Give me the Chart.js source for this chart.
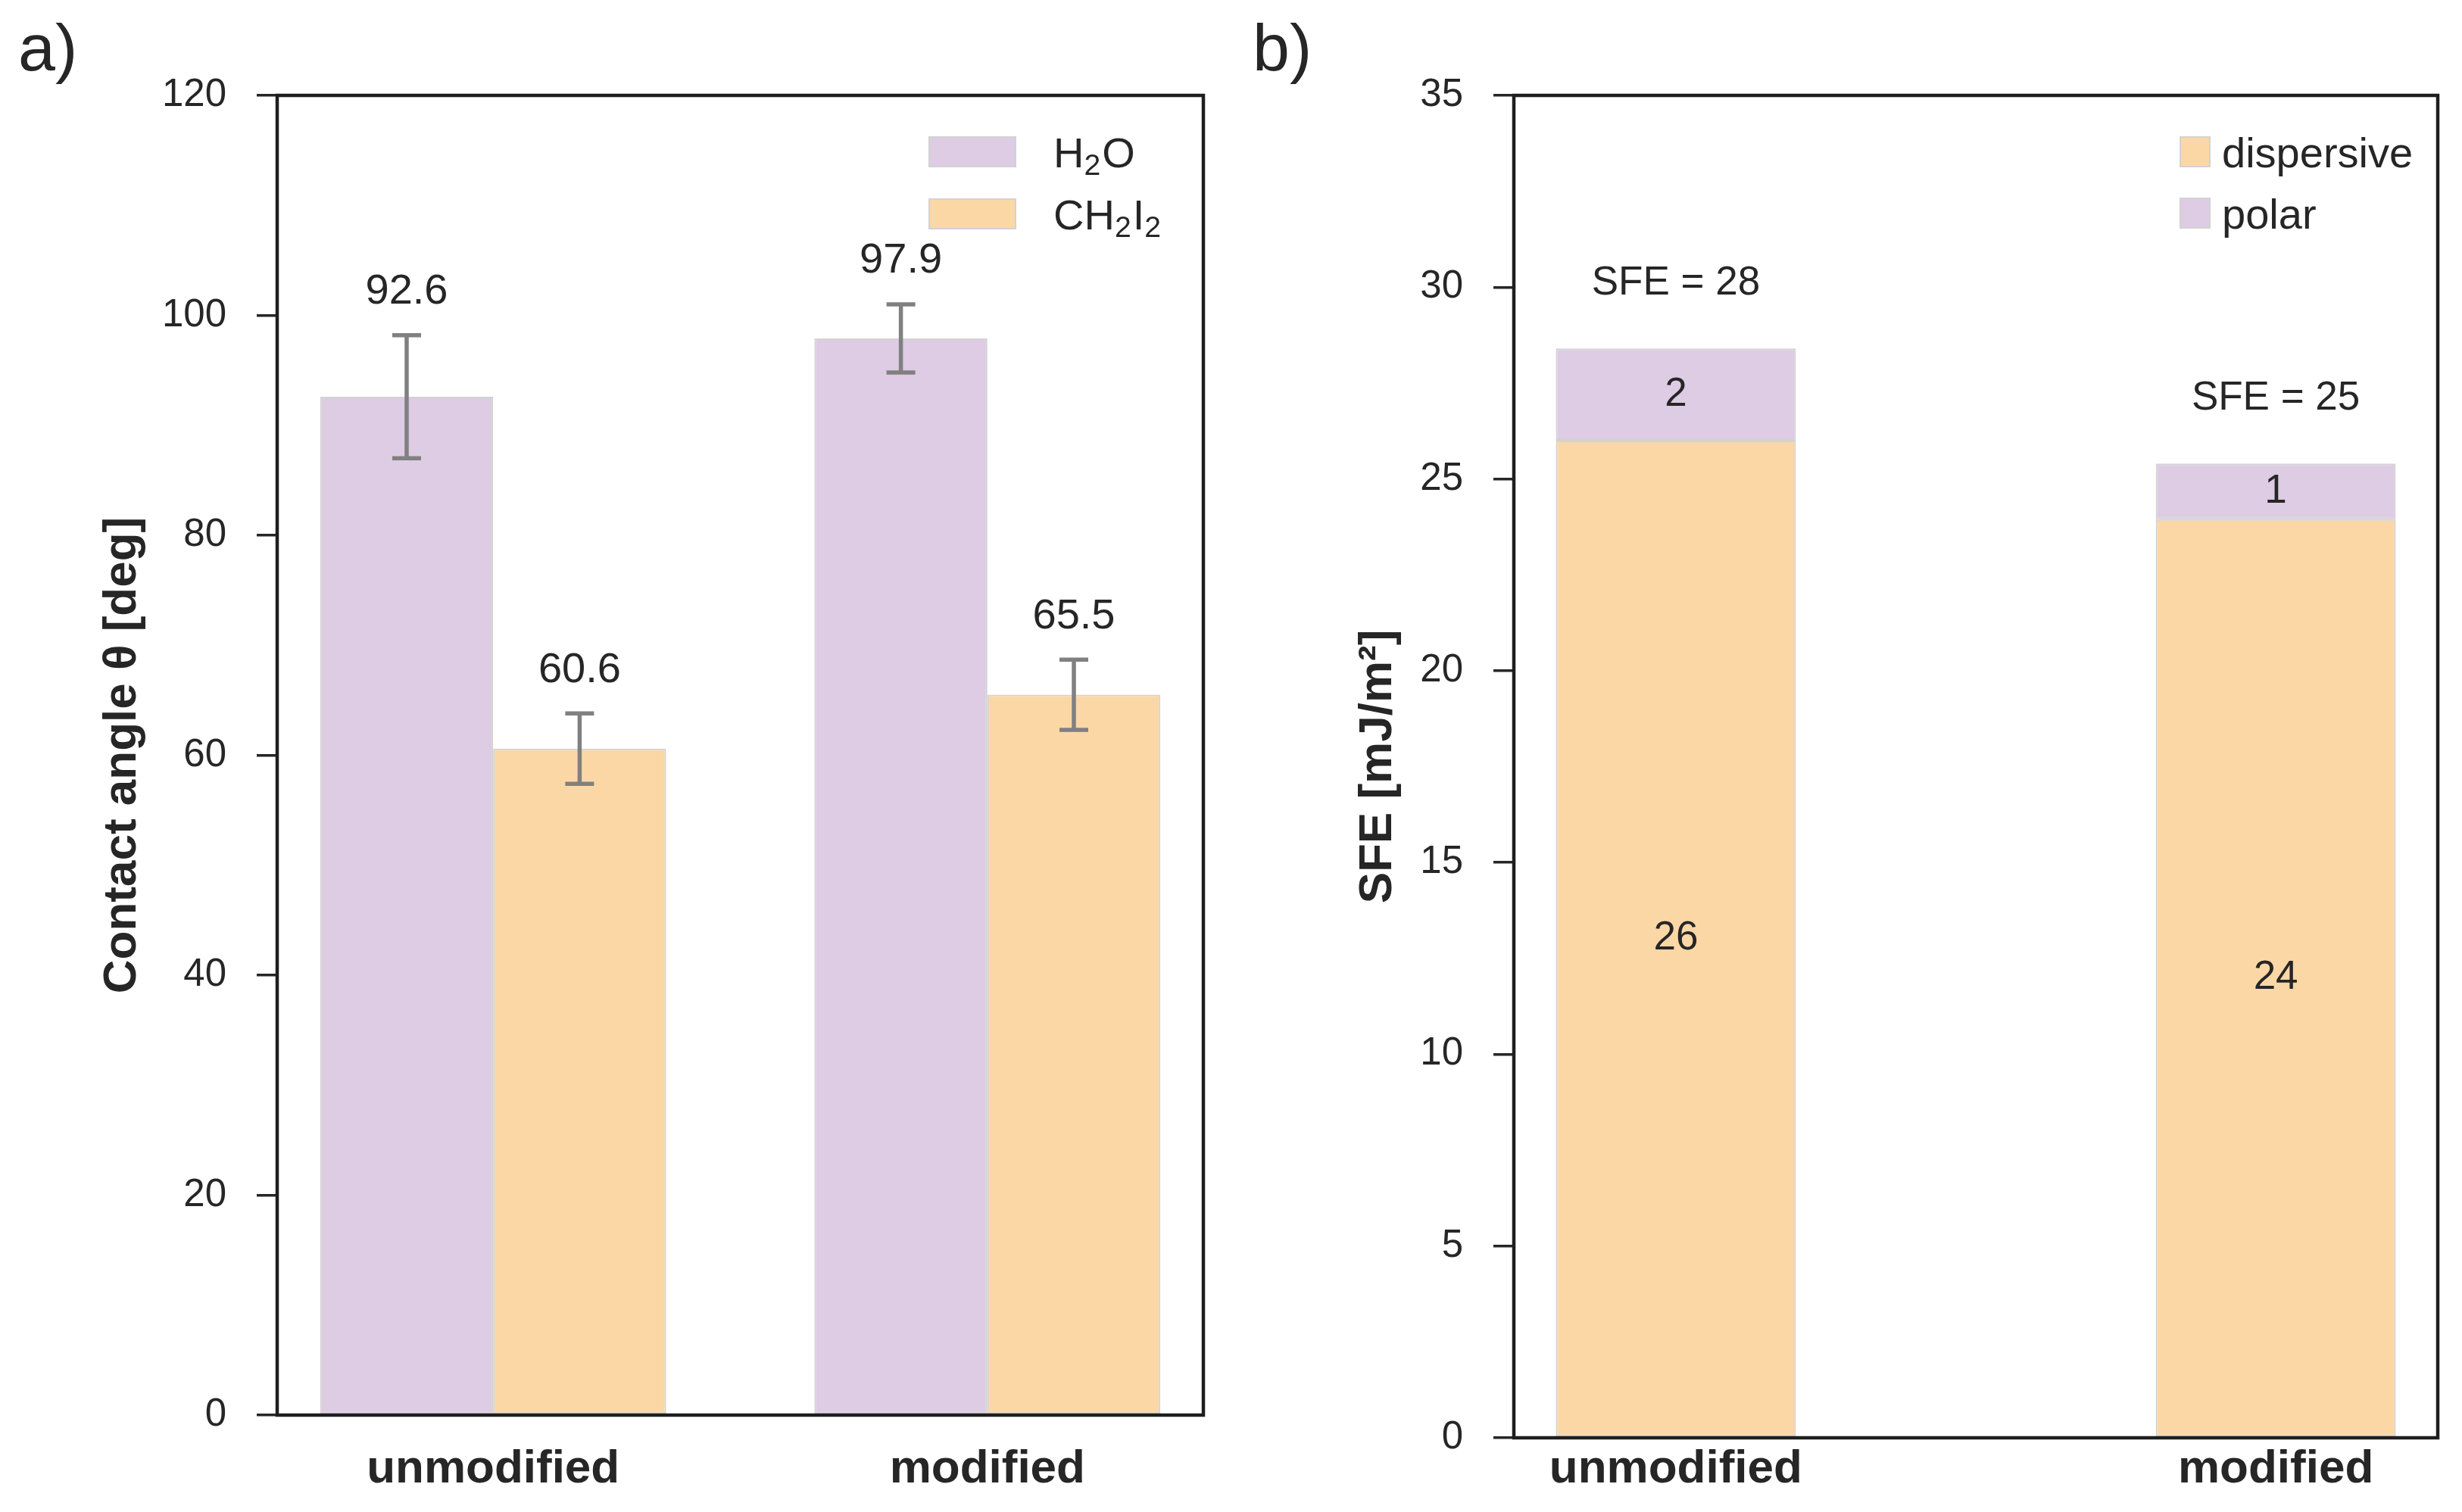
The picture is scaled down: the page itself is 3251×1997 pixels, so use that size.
<!DOCTYPE html>
<html>
<head>
<meta charset="utf-8">
<script src="https://cdn.jsdelivr.net/npm/chart.js@4.4.1/dist/chart.umd.min.js"></script>
<style>
    body { margin: 0; background: #fff; width: 3251px; height: 1997px; position: relative; overflow: hidden; }
    .panel { position: absolute; top: 0; }
    #panelA { left: 0; }
    #panelB { left: 1625px; }
</style>
</head>
<body>
<div class="panel" id="panelA"><canvas id="angleChart" width="1625" height="1997"></canvas></div>
<div class="panel" id="panelB"><canvas id="sfeChart" width="1626" height="1997"></canvas></div>
<script>
// categories and tick values
const categories = ['unmodified', 'modified'];
const angleTicks = [0, 20, 40, 60, 80, 100, 120];
const sfeTicks = [0, 5, 10, 15, 20, 25, 30, 35];

// a) contact angles (deg) with standard deviation
const waterAngle = [92.6, 97.9];
const waterErr = [5.6, 3.1];
const diiodoAngle = [60.6, 65.5];
const diiodoErr = [3.2, 3.2];

// b) surface free energy components (mJ/m²)
const dispersiveSFE = [26.0, 23.95];
const polarSFE = [2.4, 1.45];

const FONT = '"Liberation Sans", Arial, Helvetica, sans-serif';
const INK = '#262626';
const PURPLE = '#DDCCE4';
const ORANGE = '#FCD7A6';
const EDGE = '#d2d2d2';

Chart.defaults.font.family = FONT;
Chart.defaults.color = INK;

// draws "H2O" / "CH2I2" with the digits as subscripts
function drawFormula(ctx, text, x, baseline, size) {
    const parts = text.match(/[^\d]+|\d+/g);
    let cx = x;
    parts.forEach(part => {
        const isSub = /^\d+$/.test(part);
        const s = isSub ? size * 0.7 : size;
        ctx.font = `${s}px ${FONT}`;
        ctx.fillText(part, cx, isSub ? baseline + size * 0.18 : baseline);
        cx += ctx.measureText(part).width + (isSub ? 2 : 0);
    });
}

const panelDecor = {
    id: 'panelDecor',
    afterDatasetsDraw(chart) {
        const ctx = chart.ctx;
        const y = chart.scales.y;
        chart.data.datasets.forEach((ds, di) => {
            if (!ds.errors) return;
            chart.getDatasetMeta(di).data.forEach((bar, i) => {
                const v = ds.data[i].y;
                const top = y.getPixelForValue(v + ds.errors[i]);
                const bottom = y.getPixelForValue(v - ds.errors[i]);
                ctx.save();
                ctx.strokeStyle = '#808080';
                ctx.lineWidth = 5.5;
                ctx.beginPath();
                ctx.moveTo(bar.x, top);
                ctx.lineTo(bar.x, bottom);
                ctx.moveTo(bar.x - 19, top);
                ctx.lineTo(bar.x + 19, top);
                ctx.moveTo(bar.x - 19, bottom);
                ctx.lineTo(bar.x + 19, bottom);
                ctx.stroke();
                ctx.restore();
            });
        });
    },
    afterDraw(chart, args, opts) {
        const {ctx, chartArea} = chart;
        const y = chart.scales.y;
        ctx.save();

        // frame
        ctx.strokeStyle = '#1e1e1e';
        ctx.lineWidth = 4.5;
        ctx.strokeRect(chartArea.left, chartArea.top, chartArea.right - chartArea.left, chartArea.bottom - chartArea.top);

        ctx.fillStyle = INK;
        ctx.textAlign = 'center';
        ctx.textBaseline = 'middle';

        if (opts.mode === 'angle') {
            ctx.font = `${opts.labelSize}px ${FONT}`;
            chart.data.datasets.forEach((ds, di) => {
                chart.getDatasetMeta(di).data.forEach((bar, i) => {
                    const v = ds.data[i].y;
                    const top = y.getPixelForValue(v + ds.errors[i]);
                    ctx.fillText(v.toFixed(1), bar.x, top - 57);
                });
            });
        } else {
            ctx.font = `${opts.labelSize}px ${FONT}`;
            chart.data.datasets.forEach((ds, di) => {
                chart.getDatasetMeta(di).data.forEach((bar, i) => {
                    ctx.fillText(String(Math.round(ds.data[i].y)), bar.x, (bar.y + bar.base) / 2);
                });
            });
            const last = chart.getDatasetMeta(chart.data.datasets.length - 1).data;
            categories.forEach((c, i) => {
                const total = chart.data.datasets.reduce((s, ds) => s + ds.data[i].y, 0);
                ctx.fillText('SFE = ' + Math.round(total), last[i].x, y.getPixelForValue(total) - 86);
            });
        }

        // legend inside the top right corner
        const lg = opts.legend;
        ctx.textAlign = 'left';
        ctx.textBaseline = 'alphabetic';
        chart.data.datasets.forEach((ds, di) => {
            const bx = chartArea.right - lg.right;
            const by = chartArea.top + lg.top + di * lg.gap;
            ctx.fillStyle = ds.backgroundColor;
            ctx.fillRect(bx, by, lg.boxW, lg.boxH);
            ctx.strokeStyle = EDGE;
            ctx.lineWidth = 2;
            ctx.strokeRect(bx + 1, by + 1, lg.boxW - 2, lg.boxH - 2);
            ctx.fillStyle = INK;
            drawFormula(ctx, ds.label, chartArea.right - lg.textX, by + lg.boxH, lg.size);
        });

        // panel tag
        ctx.font = `88px ${FONT}`;
        ctx.fillText(opts.tag.text, opts.tag.x, opts.tag.y);
        ctx.restore();
    }
};

function yAxis(ticks, max, width, titleText, titlePad) {
    return {
        min: 0,
        max: max,
        afterBuildTicks: scale => { scale.ticks = ticks.map(v => ({ value: v })); },
        afterFit: scale => { scale.width = width; },
        border: { display: false },
        grid: { drawOnChartArea: false, drawTicks: true, tickLength: 27, color: INK, lineWidth: 3.5 },
        ticks: { padding: 40, font: { size: 51 }, color: INK },
        title: { display: true, text: titleText, color: INK, font: { size: 62, weight: 'bold' }, padding: { top: titlePad, bottom: 0 } }
    };
}

function xAxis(min, max, height, pad, stacked) {
    return {
        type: 'linear',
        min: min,
        max: max,
        bounds: 'data',
        offset: false,
        stacked: stacked,
        afterBuildTicks: scale => { scale.ticks = categories.map((c, i) => ({ value: i })); },
        afterFit: scale => { scale.height = height; },
        border: { display: false },
        grid: { display: false, drawTicks: false, offset: false },
        ticks: { padding: pad, font: { size: 62, weight: 'bold' }, color: INK, callback: v => categories[v], maxRotation: 0, autoSkip: false }
    };
}

new Chart(document.getElementById('angleChart'), {
    type: 'bar',
    data: {
        datasets: [
            {
                label: 'H2O',
                data: categories.map((c, i) => ({ x: i, y: waterAngle[i] })),
                errors: waterErr,
                backgroundColor: PURPLE,
                borderColor: EDGE,
                borderWidth: 2,
                borderSkipped: false
            },
            {
                label: 'CH2I2',
                data: categories.map((c, i) => ({ x: i, y: diiodoAngle[i] })),
                errors: diiodoErr,
                backgroundColor: ORANGE,
                borderColor: EDGE,
                borderWidth: 2,
                borderSkipped: false
            }
        ]
    },
    options: {
        responsive: false,
        animation: false,
        devicePixelRatio: 1,
        events: [],
        categoryPercentage: 0.7,
        barPercentage: 1.0,
        layout: { padding: { left: 0, top: 126, right: 36, bottom: 0 } },
        scales: {
            x: xAxis(-0.437, 1.437, 128, 35, false),
            y: yAxis(angleTicks, 120, 366, 'Contact angle θ [deg]', 125)
        },
        plugins: {
            legend: { display: false },
            tooltip: { enabled: false },
            panelDecor: {
                mode: 'angle',
                labelSize: 56,
                legend: { right: 363, top: 54, gap: 82, boxW: 116, boxH: 41, textX: 198, size: 56 },
                tag: { text: 'a)', x: 24, y: 93 }
            }
        }
    },
    plugins: [panelDecor]
});

new Chart(document.getElementById('sfeChart'), {
    type: 'bar',
    data: {
        datasets: [
            {
                label: 'dispersive',
                data: categories.map((c, i) => ({ x: i, y: dispersiveSFE[i] })),
                backgroundColor: ORANGE,
                borderColor: EDGE,
                borderWidth: 2,
                borderSkipped: false
            },
            {
                label: 'polar',
                data: categories.map((c, i) => ({ x: i, y: polarSFE[i] })),
                backgroundColor: PURPLE,
                borderColor: EDGE,
                borderWidth: 2,
                borderSkipped: false
            }
        ]
    },
    options: {
        responsive: false,
        animation: false,
        devicePixelRatio: 1,
        events: [],
        categoryPercentage: 0.4,
        barPercentage: 1.0,
        layout: { padding: { left: 0, top: 126, right: 32, bottom: 0 } },
        scales: {
            x: xAxis(-0.27, 1.27, 98, 5, true),
            y: Object.assign(yAxis(sfeTicks, 35, 374, 'SFE [mJ/m²]', 158), { stacked: true })
        },
        plugins: {
            legend: { display: false },
            tooltip: { enabled: false },
            panelDecor: {
                mode: 'sfe',
                labelSize: 53,
                legend: { right: 341, top: 54, gap: 81, boxW: 41, boxH: 41, textX: 285, size: 56 },
                tag: { text: 'b)', x: 29, y: 93 }
            }
        }
    },
    plugins: [panelDecor]
});
</script>
</body>
</html>
